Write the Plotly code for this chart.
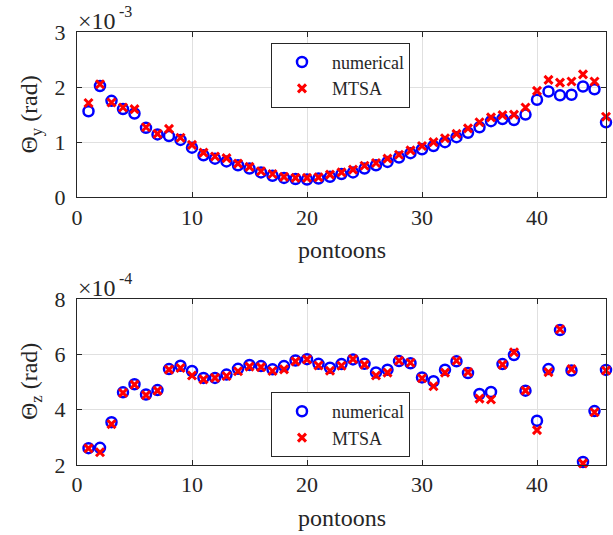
import plotly.graph_objects as go

# pontoon index
pontoons = list(range(1, 47))

# Theta_y values in units of 1e-3 rad
thy_num = [1.56, 2.02, 1.75, 1.60, 1.52, 1.26, 1.14, 1.11, 1.04, 0.90,
           0.76, 0.70, 0.65, 0.58, 0.52, 0.45, 0.39, 0.35, 0.33, 0.32,
           0.34, 0.37, 0.42, 0.45, 0.52, 0.58, 0.64, 0.72, 0.80, 0.87,
           0.93, 1.00, 1.09, 1.17, 1.27, 1.38, 1.42, 1.40, 1.50, 1.77,
           1.92, 1.85, 1.86, 2.01, 1.96, 1.36]
thy_mtsa = [1.71, 2.05, 1.72, 1.63, 1.60, 1.27, 1.15, 1.24, 1.08, 0.95,
            0.81, 0.74, 0.71, 0.61, 0.55, 0.47, 0.42, 0.37, 0.35, 0.35,
            0.36, 0.41, 0.45, 0.50, 0.57, 0.62, 0.70, 0.77, 0.85, 0.93,
            1.00, 1.07, 1.15, 1.25, 1.36, 1.45, 1.49, 1.50, 1.63, 1.93,
            2.13, 2.08, 2.10, 2.23, 2.10, 1.46]

# Theta_z values in units of 1e-4 rad
thz_num = [2.61, 2.62, 3.55, 4.63, 4.92, 4.55, 4.71, 5.47, 5.59, 5.40,
           5.15, 5.15, 5.27, 5.48, 5.62, 5.58, 5.46, 5.58, 5.78, 5.83,
           5.66, 5.52, 5.65, 5.82, 5.66, 5.35, 5.45, 5.76, 5.68, 5.17,
           5.03, 5.45, 5.75, 5.33, 4.57, 4.64, 5.65, 5.98, 4.69, 3.60,
           5.47, 6.88, 5.42, 2.11, 3.95, 5.44]
thz_mtsa = [2.60, 2.46, 3.48, 4.61, 4.91, 4.53, 4.69, 5.45, 5.51, 5.24,
            5.10, 5.15, 5.22, 5.39, 5.56, 5.54, 5.40, 5.46, 5.75, 5.82,
            5.60, 5.41, 5.59, 5.83, 5.63, 5.24, 5.34, 5.77, 5.70, 5.14,
            4.85, 5.34, 5.77, 5.36, 4.40, 4.37, 5.63, 6.08, 4.69, 3.26,
            5.36, 6.91, 5.47, 2.06, 3.91, 5.42]

x_ticks = [0, 10, 20, 30, 40]
y1_ticks = [0, 1, 2, 3]
y2_ticks = [2, 4, 6, 8]

FONT = "Liberation Serif, Times New Roman, serif"
TXT = "#262626"
BLUE = "#0000FF"
RED = "#FF0000"

fig = go.Figure()

def add_pair(xa, ya, ynum, ymtsa, legend):
    fig.add_trace(go.Scatter(
        x=pontoons, y=ynum, mode="markers", name="numerical",
        xaxis=xa, yaxis=ya, legend=legend, cliponaxis=False,
        marker=dict(symbol="circle-open", size=10, color=BLUE,
                    line=dict(width=2.5, color=BLUE))))
    fig.add_trace(go.Scatter(
        x=pontoons, y=ymtsa, mode="markers", name="MTSA",
        xaxis=xa, yaxis=ya, legend=legend, cliponaxis=False,
        marker=dict(symbol="x-thin-open", size=8, color=RED,
                    line=dict(width=3, color=RED))))

add_pair("x", "y", thy_num, thy_mtsa, "legend")
add_pair("x2", "y2", thz_num, thz_mtsa, "legend2")

axis_common = dict(
    showline=True, linecolor=TXT, linewidth=1, mirror="ticks",
    ticks="inside", ticklen=5, tickcolor=TXT, tickwidth=1,
    showgrid=True, gridcolor="#E0E0E0", gridwidth=1, zeroline=False,
    tickfont=dict(family=FONT, size=22, color=TXT),
)

top_dom = [0.6185, 1.0]
bot_dom = [0.0, 0.383]

leg_common = dict(xanchor="left", yanchor="top", bgcolor="white",
                  bordercolor=TXT, borderwidth=1,
                  font=dict(family=FONT, size=18, color=TXT), itemwidth=50)

fig.update_layout(
    width=613, height=535,
    margin=dict(l=77, r=7, t=32, b=70),
    paper_bgcolor="white", plot_bgcolor="white",
    font=dict(family=FONT, color=TXT),
    xaxis=dict(domain=[0, 1], anchor="y", range=[0, 46], tickvals=x_ticks,
               ticklabelstandoff=0, **axis_common),
    yaxis=dict(domain=top_dom, anchor="x", range=[0, 3], tickvals=y1_ticks,
               ticklabelstandoff=6, **axis_common),
    xaxis2=dict(domain=[0, 1], anchor="y2", range=[0, 46], tickvals=x_ticks,
                ticklabelstandoff=0, **axis_common),
    yaxis2=dict(domain=bot_dom, anchor="x2", range=[2, 8], tickvals=y2_ticks,
                ticklabelstandoff=6, **axis_common),
    legend=dict(x=0.3667, y=0.975, **leg_common),
    legend2=dict(x=0.3667, y=0.1685, **leg_common),
    showlegend=True,
)

exp_font = dict(family=FONT, size=24, color=TXT)
sup_font = dict(family=FONT, size=16, color=TXT)
lab_font = dict(family=FONT, size=24, color=TXT)
annotations = []
for xd, yd, sup in [("x domain", "y domain", "-3"), ("x2 domain", "y2 domain", "-4")]:
    annotations.append(dict(text="×10", xref=xd, yref=yd, x=0, y=1,
                            xanchor="left", yanchor="bottom", showarrow=False,
                            font=exp_font, xshift=-1, yshift=-4))
    annotations.append(dict(text=sup, xref=xd, yref=yd, x=0, y=1,
                            xanchor="left", yanchor="bottom", showarrow=False,
                            font=sup_font, xshift=40, yshift=10))
annotations += [
    dict(text="Θ<sub>y</sub> (rad)", xref="x domain", yref="y domain", x=0, y=0.5,
         xanchor="center", yanchor="middle", textangle=-90, showarrow=False,
         font=lab_font, xshift=-46),
    dict(text="Θ<sub>z</sub> (rad)", xref="x2 domain", yref="y2 domain", x=0, y=0.5,
         xanchor="center", yanchor="middle", textangle=-90, showarrow=False,
         font=lab_font, xshift=-46),
    dict(text="pontoons", xref="x domain", yref="y domain", x=0.5, y=0,
         xanchor="center", yanchor="middle", showarrow=False, font=lab_font, yshift=-53),
    dict(text="pontoons", xref="x2 domain", yref="y2 domain", x=0.5, y=0,
         xanchor="center", yanchor="middle", showarrow=False, font=lab_font, yshift=-53),
]
fig.update_layout(annotations=annotations)

fig.write_html("out.html")
